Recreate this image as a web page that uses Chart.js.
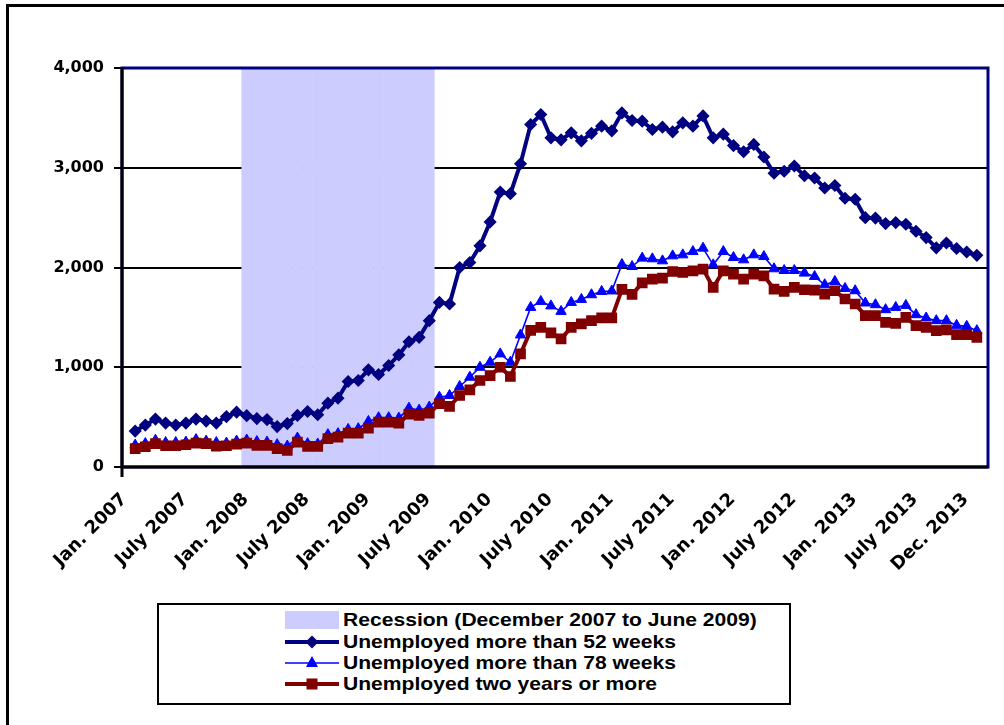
<!DOCTYPE html>
<html>
<head>
<meta charset="utf-8">
<script src="https://cdn.jsdelivr.net/npm/chart.js@4.4.1/dist/chart.umd.min.js"></script>
<style>
    html, body { margin: 0; padding: 0; background: #fff; }
    #wrap { position: relative; width: 1004px; height: 725px; overflow: hidden; font-family: "Liberation Sans", Arial, sans-serif; }
    #frame { position: absolute; left: 6px; top: 4px; width: 1010px; height: 740px; border-left: 3px solid #000; border-top: 3px solid #000; }
    #chart { position: absolute; left: 0; top: 0; }
    #legend { position: absolute; left: 157px; top: 603px; width: 630px; height: 98px; border: 2px solid #000; background: #fff; }
    .legend-row { position: absolute; left: 126px; height: 21px; display: flex; align-items: center; color: #000; white-space: nowrap; }
    .legend-row svg { margin-right: 4px; flex: none; }
    .legend-row span { display: inline-block; font-weight: bold; font-size: 18.5px; transform: scaleX(1.14); transform-origin: left center; }
</style>
</head>
<body>
<div id="wrap">
    <div id="frame"></div>
    <canvas id="chart" width="1004" height="725"></canvas>
    <div id="legend"></div>
</div>
<script>
// --- Data (thousands of persons, monthly Jan. 2007 - Dec. 2013) ---
const monthNames = ['Jan.', 'Feb.', 'Mar.', 'Apr.', 'May', 'June', 'July', 'Aug.', 'Sept.', 'Oct.', 'Nov.', 'Dec.'];
const years = [2007, 2008, 2009, 2010, 2011, 2012, 2013];
const months = [];
years.forEach(y => monthNames.forEach(m => months.push(m + ' ' + y)));

const tickLabels = ['Jan. 2007', 'July 2007', 'Jan. 2008', 'July 2008', 'Jan. 2009', 'July 2009', 'Jan. 2010',
    'July 2010', 'Jan. 2011', 'July 2011', 'Jan. 2012', 'July 2012', 'Jan. 2013', 'July 2013', 'Dec. 2013'];
const yTicks = [0, 1000, 2000, 3000, 4000];

const recessionSpan = ['Dec. 2007', 'June 2009'];
const recessionLabel = 'Recession (December 2007 to June 2009)';

const over52Weeks = [
    360, 420, 480, 440, 420, 440, 480, 460, 440, 505, 550, 515,
    485, 475, 405, 435, 517, 557, 524, 640, 690, 857, 867, 974,
    927, 1017, 1124, 1255, 1300, 1467, 1650, 1634, 2000, 2050, 2217, 2457,
    2757, 2740, 3040, 3434, 3534, 3300, 3280, 3350, 3270, 3345, 3417, 3370,
    3550, 3474, 3467, 3384, 3407, 3360, 3450, 3417, 3520, 3300, 3337, 3222,
    3160, 3234, 3108, 2945, 2965, 3017, 2920, 2897, 2797, 2822, 2694, 2684,
    2500, 2495, 2440, 2450, 2434, 2363, 2300, 2197, 2245, 2190, 2155, 2122
];
const over78Weeks = [
    220, 235, 268, 245, 245, 250, 275, 260, 245, 240, 260, 270,
    255, 250, 224, 210, 290, 234, 230, 324, 334, 377, 384, 457,
    494, 494, 490, 590, 570, 600, 700, 717, 807, 900, 1000, 1050,
    1134, 1050, 1324, 1600, 1660, 1615, 1560, 1650, 1680, 1727, 1760, 1765,
    2030, 2010, 2094, 2087, 2067, 2117, 2127, 2160, 2194, 2027, 2160, 2100,
    2077, 2127, 2110, 1987, 1970, 1970, 1944, 1910, 1827, 1860, 1790, 1767,
    1644, 1627, 1577, 1600, 1620, 1527, 1494, 1467, 1467, 1420, 1410, 1367
];
const twoYearsOrMore = [
    185, 203, 234, 213, 213, 223, 240, 234, 210, 213, 230, 240,
    217, 217, 184, 167, 250, 207, 207, 284, 300, 340, 340, 390,
    450, 450, 440, 530, 517, 540, 634, 607, 717, 774, 867, 917,
    1000, 907, 1134, 1370, 1400, 1345, 1284, 1400, 1434, 1467, 1495, 1495,
    1780, 1730, 1845, 1884, 1894, 1960, 1950, 1967, 1984, 1800, 1967, 1934,
    1884, 1934, 1917, 1784, 1760, 1800, 1777, 1774, 1734, 1767, 1684, 1634,
    1517, 1517, 1450, 1440, 1500, 1417, 1400, 1367, 1374, 1327, 1327, 1300
];

document.addEventListener('DOMContentLoaded', () => {
    const AXIS_FONT = '"DejaVu Sans", sans-serif';
    const toPoints = arr => arr.map((v, i) => ({ x: i, y: v }));
    const tickIdx = tickLabels.map(l => months.indexOf(l));
    const yMax = yTicks[yTicks.length - 1];

    // recession shading = one full-height bar per month
    const recStart = months.indexOf(recessionSpan[0]);
    const recEnd = months.indexOf(recessionSpan[1]);
    const recessionBars = [];
    for (let i = recStart; i <= recEnd; i++) recessionBars.push({ x: i, y: yMax });

    // --- frame around plot area ---
    const plotFrame = {
        id: 'plotFrame',
        afterDatasetsDraw(chart) {
            const { ctx, chartArea: a } = chart;
            ctx.save();
            ctx.strokeStyle = '#000080';
            ctx.lineWidth = 3;
            ctx.strokeRect(a.left, a.top, a.right - a.left, a.bottom - a.top);
            ctx.strokeStyle = '#000';
            ctx.beginPath();
            ctx.moveTo(a.left, a.top);
            ctx.lineTo(a.left, a.bottom + 10);
            ctx.moveTo(a.left, a.bottom);
            ctx.lineTo(a.right, a.bottom);
            ctx.stroke();
            ctx.restore();
        }
    };

    const datasets = [
        {
            label: 'Unemployed more than 52 weeks', data: toPoints(over52Weeks),
            borderColor: '#000080', backgroundColor: '#000080', borderWidth: 4,
            pointStyle: 'rectRot', pointRadius: 5.5, pointBorderWidth: 1.5, order: 1
        },
        {
            label: 'Unemployed more than 78 weeks', data: toPoints(over78Weeks),
            borderColor: '#0000FF', backgroundColor: '#0000FF', borderWidth: 1.6,
            pointStyle: 'triangle', pointRadius: 6, pointBorderWidth: 1, order: 3
        },
        {
            label: 'Unemployed two years or more', data: toPoints(twoYearsOrMore),
            borderColor: '#800000', backgroundColor: '#800000', borderWidth: 4,
            pointStyle: 'rect', pointRadius: 6.5, pointBorderWidth: 1.5, order: 2
        },
        {
            type: 'bar', label: recessionLabel, data: recessionBars,
            backgroundColor: '#CCCCFF', borderWidth: 0,
            barPercentage: 1.05, categoryPercentage: 1, order: 4
        }
    ];

    new Chart(document.getElementById('chart'), {
        type: 'line',
        data: { datasets },
        options: {
            responsive: false, animation: false, devicePixelRatio: 1,
            layout: { padding: { top: 68, right: 16, left: 0, bottom: 0 } },
            elements: { line: { tension: 0 } },
            plugins: { legend: { display: false }, tooltip: { enabled: false } },
            scales: {
                x: {
                    type: 'linear', min: -1.3, max: 84.1, offset: false,
                    afterBuildTicks: s => { s.ticks = tickIdx.map(v => ({ value: v })); },
                    afterFit: s => { s.height = 258; s.paddingLeft = 0; s.paddingRight = 0; },
                    grid: { display: false, drawTicks: false },
                    border: { display: false },
                    ticks: {
                        autoSkip: false, minRotation: 45, maxRotation: 45, padding: 22, labelOffset: -11,
                        color: '#000', font: { family: AXIS_FONT, size: 18, weight: 'bold' },
                        callback: (v, i) => tickLabels[i]
                    }
                },
                y: {
                    min: 0, max: yMax,
                    afterBuildTicks: s => { s.ticks = yTicks.map(v => ({ value: v })); },
                    afterFit: s => { s.width = 122; },
                    grid: { color: '#000', lineWidth: 2, tickLength: 8, tickWidth: 2, tickColor: '#000' },
                    border: { display: false },
                    ticks: {
                        padding: 10, color: '#000', font: { family: AXIS_FONT, size: 16, weight: 'bold' },
                        callback: v => v.toLocaleString('en-US')
                    }
                }
            }
        },
        plugins: [plotFrame]
    });

    // --- HTML legend built from the datasets ---
    const W = 54, H = 18, C = W / 2, M = H / 2;
    const marker = ds => {
        const c = ds.borderColor || ds.backgroundColor;
        if (ds.type === 'bar') return `<svg width="${W}" height="${H}"><rect x="0" y="0" width="${W}" height="${H}" fill="${ds.backgroundColor}"/></svg>`;
        let shape = '';
        if (ds.pointStyle === 'rectRot') shape = `<polygon points="${C},${M - 6.5} ${C + 6.5},${M} ${C},${M + 6.5} ${C - 6.5},${M}" fill="${c}"/>`;
        if (ds.pointStyle === 'triangle') shape = `<polygon points="${C},${M - 7} ${C + 6},${M + 4} ${C - 6},${M + 4}" fill="${c}"/>`;
        if (ds.pointStyle === 'rect') shape = `<rect x="${C - 5.5}" y="${M - 5.5}" width="11" height="11" fill="${c}"/>`;
        return `<svg width="${W}" height="${H}"><line x1="0" y1="${M}" x2="${W}" y2="${M}" stroke="${c}" stroke-width="${ds.borderWidth}"/>${shape}</svg>`;
    };
    const legendOrder = [datasets[3], datasets[0], datasets[1], datasets[2]];
    const rowTops = [4, 26, 47, 68];
    document.getElementById('legend').innerHTML = legendOrder.map((ds, i) =>
        `<div class="legend-row" style="top:${rowTops[i]}px">${marker(ds)}<span>${ds.label}</span></div>`).join('');
});
</script>
</body>
</html>
